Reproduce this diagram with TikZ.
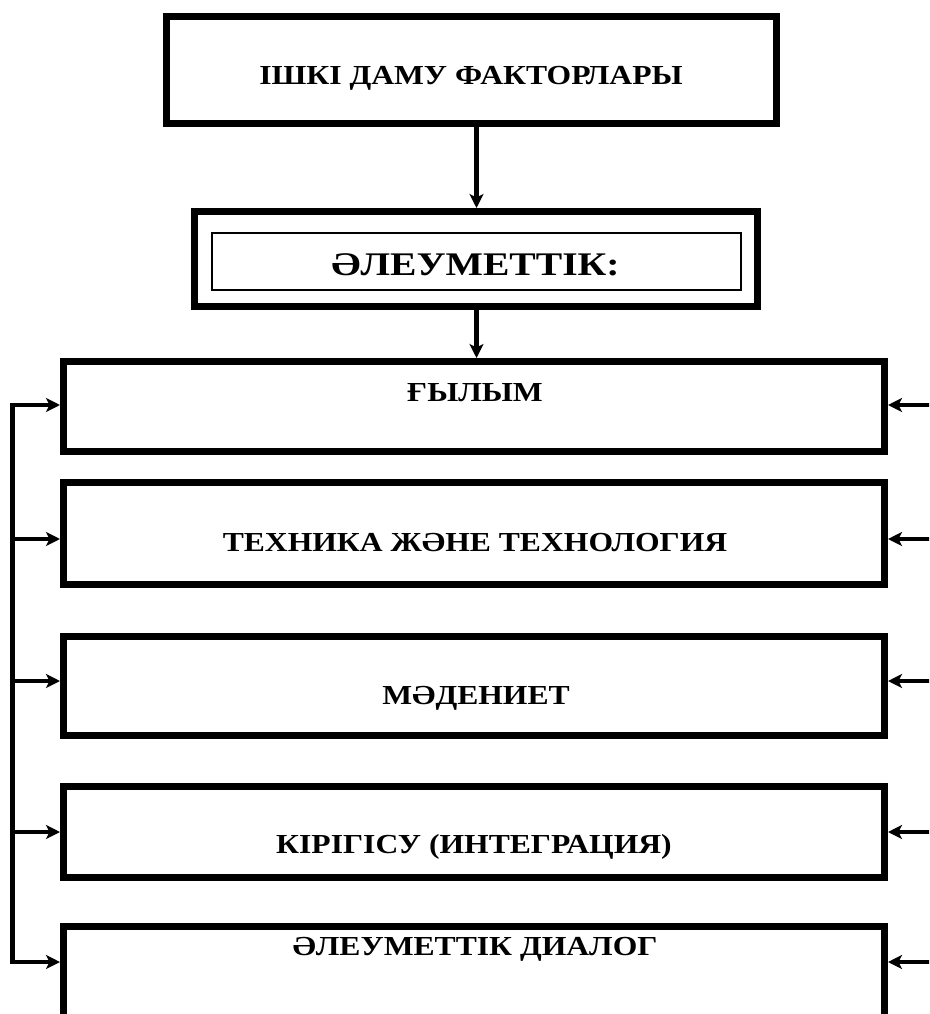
\documentclass[tikz,border=0pt]{standalone}
\usepackage{fontspec}
\setmainfont{Liberation Serif}
\usetikzlibrary{arrows.meta}
\newcommand\tx[2][1.15]{\scalebox{#1}[1]{#2}}
\begin{document}
\begin{tikzpicture}[x=1pt,y=-1pt,
  thickbox/.style={draw,line width=7pt,rectangle,inner sep=0pt,fill=none},
  thinbox/.style={draw,line width=1.2pt,rectangle,inner sep=0pt},
  lbl/.style={inner sep=0pt,anchor=base,font=\bfseries\fontsize{27.5}{30}\selectfont},
  biglbl/.style={inner sep=0pt,anchor=base,font=\bfseries\fontsize{33}{36}\selectfont},
  conn/.style={line width=4.5pt},
  arr/.style={line width=4.5pt,-{Stealth[length=14pt,width=14pt,inset=3.5pt]}}]
\useasboundingbox (0,0) rectangle (929,1014);
\clip (0,0) rectangle (929,1014);
% top box
\node[thickbox,minimum width=610pt,minimum height=107pt] (top) at (471.5,70) {};
\node[lbl] (toptxt) at (471,85) {\tx{ІШКІ ДАМУ ФАКТОРЛАРЫ}};
% social box
\node[thickbox,minimum width=563pt,minimum height=95pt] (soc) at (476,259) {};
\node[thinbox,minimum width=529pt,minimum height=57pt] (socin) at (476.5,261.5) {};
\node[biglbl] (soctxt) at (475.5,275) {\tx[1.2]{ӘЛЕУМЕТТІК:}};
% five boxes
\node[thickbox,minimum width=821pt,minimum height=90pt] (b1) at (474,406.5) {};
\node[thickbox,minimum width=821pt,minimum height=102pt] (b2) at (474,533.5) {};
\node[thickbox,minimum width=821pt,minimum height=99pt] (b3) at (474,686) {};
\node[thickbox,minimum width=821pt,minimum height=91pt] (b4) at (474,832) {};
\node[thickbox,minimum width=821pt,minimum height=90.5pt] (b5) at (474,971.75) {};
\node[lbl] (t1) at (475,401) {\tx{ҒЫЛЫМ}};
\node[lbl] (t2) at (475,551) {\tx{ТЕХНИКА ЖӘНЕ ТЕХНОЛОГИЯ}};
\node[lbl] (t3) at (476,704) {\tx{МӘДЕНИЕТ}};
\node[lbl] (t4) at (474,853) {\tx{КІРІГІСУ (ИНТЕГРАЦИЯ)}};
\node[lbl] (t5) at (475,955) {\tx{ӘЛЕУМЕТТІК ДИАЛОГ}};
% vertical arrows
\coordinate (ax) at (476.5,0);
\draw[arr] (top.south -| ax) -- (soc.north -| ax);
\draw[arr] (soc.south -| ax) -- (b1.north -| ax);
% left bracket
\coordinate (l1) at (12.5,405);
\coordinate (l2) at (12.5,539);
\coordinate (l3) at (12.5,681);
\coordinate (l4) at (12.5,832);
\coordinate (l5) at (12.5,962);
\draw[conn,line cap=rect] (l1) -- (l5);
\foreach \i in {1,...,5} {\draw[arr] (l\i) -- (l\i -| b\i.west);}
% right arrows
\coordinate (r1) at (940,405);
\coordinate (r2) at (940,539);
\coordinate (r3) at (940,681);
\coordinate (r4) at (940,832);
\coordinate (r5) at (940,962);
\foreach \i in {1,...,5} {\draw[arr] (r\i) -- (r\i -| b\i.east);}
\end{tikzpicture}
\end{document}
